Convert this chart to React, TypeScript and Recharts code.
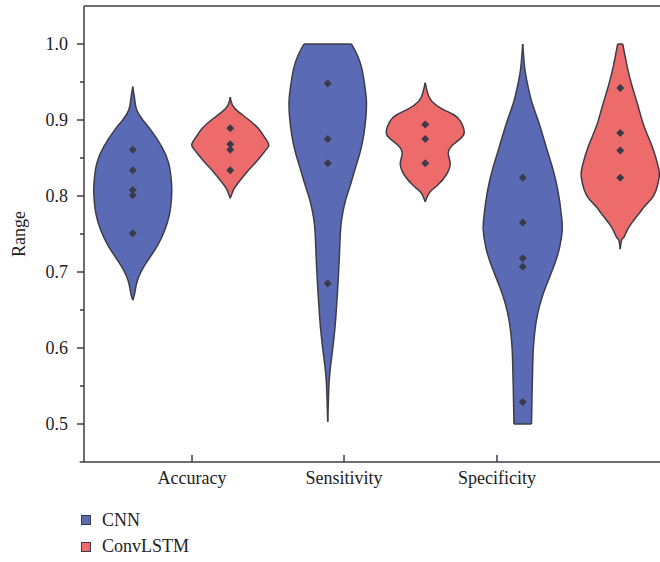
import React from 'react';
import { ComposedChart, Area, Scatter, XAxis, YAxis, ReferenceLine, Legend } from 'recharts';

const categories = ['Accuracy', 'Sensitivity', 'Specificity'];
const models = ['CNN', 'ConvLSTM'];
const modelColors = ['#5a6ab4', '#ee6b6b'];
const outlineColor = '#3d3d48';
const dotColor = '#3a3a48';

// x positions (violin slots: CNN at 0,2,4 ; ConvLSTM at 1,3,5)
const categoryTickPositions = [0.608, 2.167, 3.736];
const xDomain = [-0.5, 5.408];
const yDomain = [0.45, 1.05];
const yMajorTicks = [0.5, 0.6, 0.7, 0.8, 0.9, 1.0];
const yMinorTicks = [0.55, 0.65, 0.75, 0.85, 0.95];

// observed scores (diamonds)
const cnnPoints = [
  [0.861, 0.834, 0.808, 0.801, 0.751],
  [0.948, 0.875, 0.843, 0.685],
  [0.824, 0.765, 0.718, 0.707, 0.529],
];
const convLstmPoints = [
  [0.889, 0.868, 0.861, 0.834],
  [0.894, 0.875, 0.843],
  [0.942, 0.883, 0.86, 0.824],
];

// violin outlines: [value, half width in slot units]
const cnnAccuracyViolin = [
  [0.944, 0], [0.926, 0.021], [0.913, 0.041], [0.9, 0.103], [0.887, 0.185],
  [0.865, 0.297], [0.843, 0.369], [0.821, 0.395], [0.81, 0.4], [0.799, 0.398], [0.777, 0.379],
  [0.755, 0.328], [0.733, 0.246], [0.711, 0.133], [0.69, 0.051], [0.672, 0.02], [0.663, 0],
];
const cnnSensitivityViolin = [
  [1.0, 0.244], [0.9855, 0.303], [0.968, 0.349], [0.946, 0.379], [0.924, 0.397],
  [0.902, 0.39], [0.88, 0.369], [0.858, 0.333], [0.836, 0.282], [0.814, 0.231],
  [0.7925, 0.179], [0.7707, 0.144], [0.7487, 0.128], [0.7114, 0.116], [0.6675, 0.097],
  [0.6237, 0.072], [0.5886, 0.041], [0.5667, 0.021], [0.5447, 0.01], [0.503, 0],
];
const cnnSpecificityViolin = [
  [1.0, 0], [0.968, 0.021], [0.946, 0.051], [0.924, 0.092], [0.902, 0.151],
  [0.88, 0.205], [0.858, 0.256], [0.836, 0.308], [0.8145, 0.349], [0.7925, 0.379],
  [0.7707, 0.4], [0.755, 0.405], [0.7333, 0.38], [0.7114, 0.33], [0.6895, 0.264],
  [0.6675, 0.2], [0.6456, 0.154], [0.6237, 0.126], [0.6017, 0.11], [0.5798, 0.103],
  [0.5359, 0.095], [0.5, 0.09],
];
const convLstmAccuracyViolin = [
  [0.93, 0], [0.92, 0.021], [0.911, 0.082], [0.902, 0.174], [0.889, 0.287],
  [0.876, 0.359], [0.867, 0.395], [0.858, 0.349], [0.845, 0.267], [0.832, 0.174],
  [0.819, 0.092], [0.81, 0.041], [0.797, 0],
];
const convLstmSensitivityViolin = [
  [0.949, 0], [0.9329, 0.031], [0.9241, 0.072], [0.9154, 0.164], [0.9066, 0.297],
  [0.8978, 0.364], [0.8846, 0.4], [0.8759, 0.364], [0.8671, 0.282], [0.8561, 0.236],
  [0.843, 0.256], [0.8276, 0.215], [0.8145, 0.128], [0.8057, 0.051], [0.7991, 0.02], [0.7925, 0],
];
const convLstmSpecificityViolin = [
  [1.0, 0.026], [0.97, 0.072], [0.944, 0.123], [0.9175, 0.185], [0.891, 0.246],
  [0.865, 0.328], [0.8386, 0.39], [0.8254, 0.4], [0.8079, 0.369], [0.795, 0.313],
  [0.786, 0.246], [0.7772, 0.195], [0.7596, 0.092], [0.7465, 0.041], [0.742, 0.015], [0.73, 0],
];

const violinsByModel = [
  [cnnAccuracyViolin, cnnSensitivityViolin, cnnSpecificityViolin],
  [convLstmAccuracyViolin, convLstmSensitivityViolin, convLstmSpecificityViolin],
];
const pointsByModel = [cnnPoints, convLstmPoints];

const FONT = "'Liberation Serif', 'Times New Roman', serif";

type Violin = { key: string; model: number; pos: number; rows: any[]; profile: number[][] };
const violins: Violin[] = [];
violinsByModel.forEach((list, m) =>
  list.forEach((profile, c) => {
    const pos = 2 * c + m;
    violins.push({
      key: `violin_${m}_${c}`,
      model: m,
      pos,
      profile,
      rows: profile.map(([v, hw]) => ({ v, w: [pos - hw, pos + hw] })),
    });
  })
);

const scatterData = pointsByModel.map((byCat, m) =>
  byCat.flatMap((vals, c) => vals.map((v) => ({ x: 2 * c + m, v })))
);

const caps: { pos: number; v: number; hw: number }[] = [];
violins.forEach((vi) => {
  const first = vi.profile[0];
  const last = vi.profile[vi.profile.length - 1];
  if (first[1] > 0) caps.push({ pos: vi.pos, v: first[0], hw: first[1] });
  if (last[1] > 0) caps.push({ pos: vi.pos, v: last[0], hw: last[1] });
});

const Diamond = (props: any) => {
  const { cx, cy } = props;
  if (cx == null || cy == null) return null;
  const r = 4;
  return (
    <polygon
      points={`${cx},${cy - r} ${cx + r},${cy} ${cx},${cy + r} ${cx - r},${cy}`}
      fill={dotColor}
    />
  );
};

const XTick = (props: any) => {
  const { x, y, payload } = props;
  const idx = categoryTickPositions.indexOf(payload.value);
  return (
    <g>
      <line x1={x} x2={x} y1={y} y2={y - 7} stroke={outlineColor} strokeWidth={1.5} />
      <text x={x} y={y + 22} textAnchor="middle" fontFamily={FONT} fontSize={18} fill="#222">
        {categories[idx]}
      </text>
    </g>
  );
};

const YTick = (props: any) => {
  const { x, y, payload } = props;
  const major = yMajorTicks.some((t) => Math.abs(t - payload.value) < 1e-9);
  return (
    <g>
      <line x1={x - (major ? 7 : 4)} x2={x} y1={y} y2={y} stroke={outlineColor} strokeWidth={1.5} />
      {major && (
        <text x={x - 16} y={y + 6} textAnchor="end" fontFamily={FONT} fontSize={18} fill="#222">
          {payload.value.toFixed(1)}
        </text>
      )}
    </g>
  );
};

const LegendContent = () => (
  <div style={{ fontFamily: FONT, fontSize: 18, color: '#222' }}>
    {models.map((m, i) => (
      <div key={m} style={{ display: 'flex', alignItems: 'center', height: 26.5 }}>
        <span
          style={{
            display: 'inline-block',
            width: 8,
            height: 8,
            background: modelColors[i],
            border: `1px solid ${outlineColor}`,
            marginRight: 11,
          }}
        />
        <span>{m}</span>
      </div>
    ))}
  </div>
);

const yTicks = [...yMajorTicks, ...yMinorTicks].sort((a, b) => a - b);

export default function App() {
  return (
    <div style={{ position: 'absolute', left: 0, top: 0 }}>
      <ComposedChart
        width={660}
        height={562}
        layout="vertical"
        margin={{ top: 6, right: 0, bottom: 7, left: 0 }}
      >
        <XAxis
          type="number"
          dataKey="x"
          domain={xDomain}
          allowDataOverflow
          ticks={categoryTickPositions}
          interval={0}
          tick={<XTick />}
          tickLine={false}
          tickSize={0}
          tickMargin={0}
          height={40}
          axisLine={{ stroke: outlineColor, strokeWidth: 1.5 }}
        />
        <YAxis
          type="number"
          dataKey="v"
          domain={yDomain}
          allowDataOverflow
          reversed
          ticks={yTicks}
          interval={0}
          tick={<YTick />}
          tickLine={false}
          tickSize={0}
          tickMargin={0}
          width={84}
          axisLine={{ stroke: outlineColor, strokeWidth: 1.5 }}
          label={{
            value: 'Range',
            angle: -90,
            position: 'insideLeft',
            offset: 19,
            style: { textAnchor: 'middle', fontFamily: FONT, fontSize: 18, fill: '#222' },
          }}
        />
        <ReferenceLine y={yDomain[1]} stroke={outlineColor} strokeWidth={1.5} ifOverflow="visible" />
        <ReferenceLine
          segment={[
            { x: xDomain[0] - 0.045, y: yDomain[0] },
            { x: xDomain[0], y: yDomain[0] },
          ]}
          stroke={outlineColor}
          strokeWidth={1.5}
          ifOverflow="visible"
        />
        {violins.map((vi) => (
          <Area
            key={vi.key}
            data={vi.rows}
            dataKey="w"
            type="natural"
            fill={modelColors[vi.model]}
            fillOpacity={1}
            stroke={outlineColor}
            strokeWidth={1.5}
            dot={false}
            activeDot={false}
            isAnimationActive={false}
            legendType="none"
          />
        ))}
        {caps.map((cp, i) => (
          <ReferenceLine
            key={`cap${i}`}
            segment={[
              { x: cp.pos - cp.hw, y: cp.v },
              { x: cp.pos + cp.hw, y: cp.v },
            ]}
            stroke={outlineColor}
            strokeWidth={1.5}
            ifOverflow="visible"
          />
        ))}
        {scatterData.map((d, m) => (
          <Scatter
            key={models[m]}
            name={models[m]}
            data={d}
            fill={modelColors[m]}
            shape={<Diamond />}
            isAnimationActive={false}
          />
        ))}
        <Legend
          layout="horizontal"
          verticalAlign="bottom"
          align="left"
          content={<LegendContent />}
          wrapperStyle={{ left: 81, top: 507, bottom: 'auto', width: 200 }}
        />
      </ComposedChart>
    </div>
  );
}
